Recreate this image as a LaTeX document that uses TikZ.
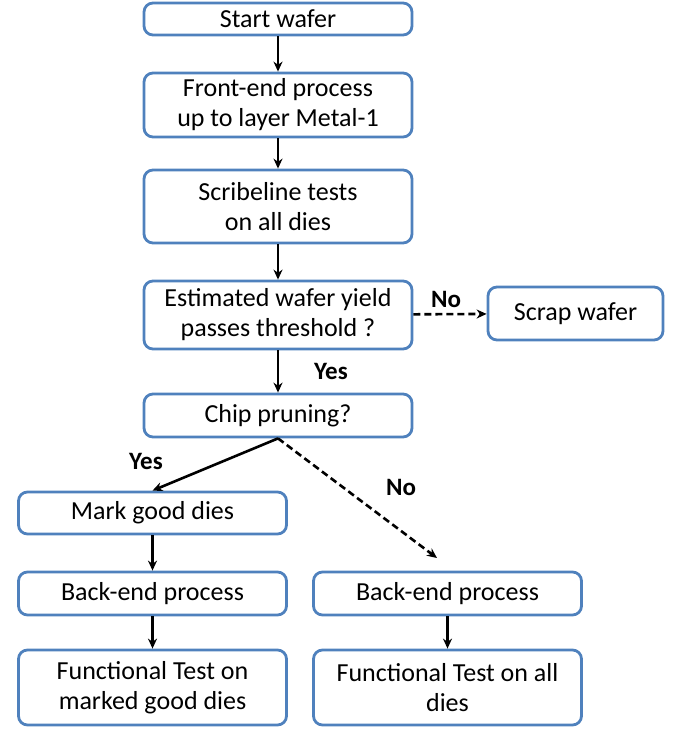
\documentclass[tikz,border=0pt]{standalone}
\usepackage{fontspec}
\setmainfont{Carlito}
\usetikzlibrary{arrows.meta}
\definecolor{boxblue}{HTML}{4F81BD}
\begin{document}
\begin{tikzpicture}[x=1pt,y=-1pt,
  box/.style={draw=boxblue,line width=2.8pt,rounded corners=9pt,fill=white,
    align=center,font=\fontsize{26}{30}\selectfont,inner sep=0pt,
    minimum width=268pt},
  conn/.style={line width=2.6pt,-{Stealth[length=10pt,width=9pt]}},
  dconn/.style={conn,dash pattern=on 7pt off 4pt},
  lab/.style={font=\fontsize{25}{28}\selectfont\bfseries}]
\useasboundingbox (0,0) rectangle (677,731);
\node[box,minimum height=32pt] (start) at (278,19) {Start wafer};
\node[box,minimum height=64pt] (front) at (278,105) {Front-end process\\up to layer Metal-1};
\node[box,minimum height=73pt] (scribe) at (278,206.5) {Scribeline tests\\on all dies};
\node[box,minimum height=68pt] (est) at (278,315) {Estimated wafer yield\\passes threshold ?};
\node[box,minimum height=53pt,minimum width=175pt] (scrap) at (575.5,313.5) {Scrap wafer};
\node[box,minimum height=43pt] (chip) at (278,415.5) {Chip pruning?};
\node[box,minimum height=42pt] (mark) at (152.5,513) {Mark good dies};
\node[box,minimum height=43pt] (backl) at (152.5,593.5) {Back-end process};
\node[box,minimum height=43pt] (backr) at (447.5,593.5) {Back-end process};
\node[box,minimum height=75pt] (funcl) at (152.5,687.5) {Functional Test on\\marked good dies};
\node[box,minimum height=75pt] (funcr) at (447.5,687.5) {Functional Test on all\\dies};
\coordinate (noend) at (437,558);
\draw[conn] (start) -- (front);
\draw[conn] (front) -- (scribe);
\draw[conn] (scribe) -- (est);
\draw[conn] (est) -- (chip);
\draw[dconn] (est) -- (scrap);
\draw[conn] (chip.south) -- (mark.north);
\draw[dconn] (chip.south) -- (noend);
\draw[conn] (mark) -- (backl);
\draw[conn] (backl) -- (funcl);
\draw[conn] (backr) -- (funcr);
\node[lab] (yes1) at (331,371) {Yes};
\node[lab] (no1) at (446,299) {No};
\node[lab] (yes2) at (146,461) {Yes};
\node[lab] (no2) at (401,487) {No};
\end{tikzpicture}
\end{document}
